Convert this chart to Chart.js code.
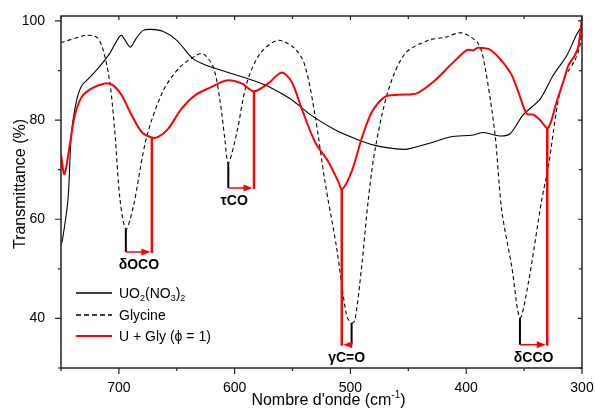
<!DOCTYPE html>
<html><head><meta charset="utf-8">
<script src="https://cdn.jsdelivr.net/npm/chart.js@4"></script>
<style>html,body{margin:0;padding:0;background:#fff}#wrap{width:595px;height:412px}</style>
</head><body><div id="wrap"><canvas id="c" width="595" height="412"></canvas></div>
<script>
// ---- data ----
const uoX=[750,749,744,741,736.5,732,726,716,708,703,698,693,690,685,679,672,662,650,636,624,607,584,570,552,534,513,493,479,464,453,448,428,414,394,385,371,362,351,336,325,313,305,300];
const uoY=[55,55.5,63.9,77.3,84,87,88.4,91,93.4,95.5,97.1,95.5,94.7,96.5,98.1,98.3,97.9,96.1,92.4,91,89.7,88,86.7,84.3,81,78,76,74.9,74.3,74.1,74.3,75.6,76.6,77,77.5,76.8,77.3,81,84.3,89,93.1,97.1,99];

const glyX=[750,749,728,719,713.5,707.7,703.4,699,693.9,687.6,676,661.6,647.2,632.8,627.1,618.5,612.7,608.4,605.5,598.3,589.6,578.1,562.6,547.9,539.3,530.6,522,511.9,503.2,498.9,496.1,490.3,484.6,478.8,467.3,452.9,432.8,418.3,403.9,389.6,383.8,375.2,369.4,360.7,353.6,346.4,334.8,329.1,320.5,314.7,306.1,301.8,300];
const glyY=[95.6,95.7,97.1,96.7,94.1,87.4,77.3,63.9,58,62.5,76.6,86,90.7,93.1,93.4,90.7,84,76,71.3,77.3,87.4,93.4,96.1,94.4,91,81,67.6,54.2,40.4,39.1,39.7,50.5,63.9,74,86,93.4,96.1,96.7,97.6,95.4,90.7,77.3,61.9,50.5,40.1,47.1,63.9,70.6,84,88.7,92.1,95,99];

const ugX=[750,747,742,738,732,723.5,712,705,697.6,689,680.3,671.7,666,657.3,645.8,634.3,619.8,607,594,583.3,571,559.4,550.7,542.1,530.6,519.1,510.5,507.3,499,490.3,481.6,470.2,458.7,442.8,428.5,414,399.6,393.9,389.6,378.6,362.2,355,347.8,342.1,336.3,329.4,321.9,316.2,311.8,306.1,303.3,300];
const ugY=[73,69.1,75.6,81,84.7,86.4,87.4,87,85,81,77.6,76.5,76.6,78.3,82.3,85,86.7,88,87.4,85.8,87.4,89.6,87.7,82.3,75.6,71.6,67.6,66,69.6,76.3,81.6,84.7,85.1,85.4,87.7,91,94.1,94.1,94.6,94.1,89.7,85.7,81.3,81.1,80,78.4,83.7,87.7,91,93.1,94.7,100.5];

const xTickValues=[700,600,500,400,300];
const xMinorValues=[750,650,550,450,350];
const yTickValues=[40,60,80,100];
const yMinorValues=[30,50,70,90];

const seriesNames=['UO2(NO3)2','Glycine','U + Gly (ϕ = 1)'];

// band shift annotations (glycine band -> complex band)
const annoLabels=['δOCO','τCO','γC=O','δCCO'];
const annoGlyX=[694,605.5,499,353.6];
const annoGlyY=[58,71.3,39.1,40.1];
const annoCpxX=[671.5,583.3,507.5,330];
const annoCpxY=[76.5,85.8,66.0,78.4];
const annoArrowY=[53.4,66.3,34.7,34.7];

const FONT="'Liberation Sans', Arial, Helvetica, sans-serif";
const RED='#ff0000';
function pts(xs,ys){return xs.map((x,i)=>({x:x,y:ys[i]}));}

function drawRich(ctx,parts,x,y,size){
  let cx=x;
  for(const [t,m] of parts){
    const s=m===0?size:Math.round(size*0.65);
    ctx.font=s+'px '+FONT;
    const dy=m===1?size*0.3:(m===2?-size*0.38:0);
    ctx.fillText(t,cx,y+dy);
    cx+=ctx.measureText(t).width;
  }
  return cx-x;
}
function richWidth(ctx,parts,size){
  let w=0;
  for(const [t,m] of parts){
    const s=m===0?size:Math.round(size*0.65);
    ctx.font=s+'px '+FONT; w+=ctx.measureText(t).width;
  }
  return w;
}

const decor={
  id:'decor',
  afterDatasetsDraw(chart){
    const {ctx,scales:{x,y}}=chart;
    ctx.save();
    for(let i=0;i<annoLabels.length;i++){
      const gx=x.getPixelForValue(annoGlyX[i]);
      const gy=y.getPixelForValue(annoGlyY[i]);
      const cx=x.getPixelForValue(annoCpxX[i]);
      const cy=y.getPixelForValue(annoCpxY[i]);
      const ay=y.getPixelForValue(annoArrowY[i]);
      ctx.strokeStyle='#000';ctx.lineWidth=2;
      ctx.beginPath();ctx.moveTo(gx,gy);ctx.lineTo(gx,ay);ctx.stroke();
      ctx.strokeStyle=RED;ctx.lineWidth=2.5;
      ctx.beginPath();ctx.moveTo(cx,ay+1);ctx.lineTo(cx,cy);ctx.stroke();
      const dir=cx>gx?1:-1;
      const tip=cx-dir*1.5;
      ctx.lineWidth=1.5;
      ctx.beginPath();ctx.moveTo(gx,ay);ctx.lineTo(tip-dir*6,ay);ctx.stroke();
      ctx.fillStyle=RED;
      ctx.beginPath();ctx.moveTo(tip,ay);ctx.lineTo(tip-dir*9,ay-3.5);ctx.lineTo(tip-dir*9,ay+3.5);ctx.closePath();ctx.fill();
      ctx.fillStyle='#000';ctx.font='bold 14px '+FONT;ctx.textAlign='center';ctx.textBaseline='middle';
      let lx=(gx+cx)/2; if(i===1) lx-=7;
      ctx.fillText(annoLabels[i],lx,ay+13);
    }
    ctx.restore();
  },
  afterDraw(chart){
    const {ctx,chartArea:a,scales:{x,y}}=chart;
    ctx.save();
    ctx.strokeStyle='#222';ctx.lineWidth=1.5;
    ctx.strokeRect(a.left,a.top,a.right-a.left,a.bottom-a.top);
    ctx.lineWidth=1.2;
    ctx.beginPath();
    for(const v of yTickValues){const p=y.getPixelForValue(v);ctx.moveTo(a.left-6,p);ctx.lineTo(a.left,p);ctx.moveTo(a.right,p);ctx.lineTo(a.right-4,p);}
    for(const v of yMinorValues){const p=y.getPixelForValue(v);ctx.moveTo(a.left-3,p);ctx.lineTo(a.left,p);ctx.moveTo(a.right,p);ctx.lineTo(a.right-3,p);}
    for(const v of xTickValues){const p=x.getPixelForValue(v);ctx.moveTo(p,a.bottom);ctx.lineTo(p,a.bottom+6);ctx.moveTo(p,a.top);ctx.lineTo(p,a.top+4);}
    for(const v of xMinorValues){const p=x.getPixelForValue(v);ctx.moveTo(p,a.bottom);ctx.lineTo(p,a.bottom+3);ctx.moveTo(p,a.top);ctx.lineTo(p,a.top+3);}
    ctx.stroke();

    ctx.fillStyle='#000';ctx.textBaseline='middle';
    ctx.save();
    ctx.translate(21,184);ctx.rotate(-Math.PI/2);
    ctx.font='16px '+FONT;ctx.textAlign='center';
    ctx.fillText('Transmittance (%)',0,0);
    ctx.restore();
    ctx.textAlign='left';
    const xt=[['Nombre d\'onde (cm',0],['-1',2],[')',0]];
    const w=richWidth(ctx,xt,16);
    drawRich(ctx,xt,(a.left+a.right)/2+7-w/2,401,16);

    const lx0=76,lx1=112,tx=119;
    const rows=[294,316,337];
    const styles=[{c:'#000',w:1.5,d:[]},{c:'#000',w:1.5,d:[5,3]},{c:RED,w:2,d:[]}];
    for(let i=0;i<3;i++){
      ctx.strokeStyle=styles[i].c;ctx.lineWidth=styles[i].w;ctx.setLineDash(styles[i].d);
      ctx.beginPath();ctx.moveTo(lx0,rows[i]-1);ctx.lineTo(lx1,rows[i]-1);ctx.stroke();
    }
    ctx.setLineDash([]);
    ctx.fillStyle='#000';ctx.textBaseline='middle';ctx.textAlign='left';
    drawRich(ctx,[['UO',0],['2',1],['(NO',0],['3',1],[')',0],['2',1]],tx,rows[0],14);
    ctx.font='14px '+FONT;
    ctx.fillText(seriesNames[1],tx,rows[1]);
    ctx.fillText(seriesNames[2],tx,rows[2]);
    ctx.restore();
  }
};

new Chart(document.getElementById('c'),{
  type:'line',
  data:{datasets:[
    {label:seriesNames[0],data:pts(uoX,uoY),borderColor:'#000',borderWidth:1.1,pointRadius:0,tension:0.3,order:1,fill:false},
    {label:seriesNames[1],data:pts(glyX,glyY),borderColor:'#000',borderWidth:1.1,borderDash:[4,3],pointRadius:0,tension:0.3,order:2,fill:false},
    {label:seriesNames[2],data:pts(ugX,ugY),borderColor:RED,borderWidth:2,pointRadius:0,tension:0.3,order:0,fill:false}
  ]},
  options:{
    responsive:false,animation:false,devicePixelRatio:1,events:[],
    layout:{padding:{top:16,right:13,left:0,bottom:0}},
    plugins:{legend:{display:false},tooltip:{enabled:false}},
    scales:{
      x:{type:'linear',reverse:true,min:300,max:750,
        afterFit(s){s.height=44;s.paddingLeft=0;s.paddingRight=0;},
        afterBuildTicks(s){s.ticks=xTickValues.map(v=>({value:v}));},
        grid:{display:false},border:{display:false},
        ticks:{padding:4,color:'#000',font:{size:14,family:FONT},maxRotation:0,autoSkip:false}},
      y:{type:'linear',min:30,max:101,
        afterFit(s){s.width=61;s.paddingTop=0;s.paddingBottom=0;},
        afterBuildTicks(s){s.ticks=yTickValues.map(v=>({value:v}));},
        grid:{display:false},border:{display:false},
        ticks:{padding:8,color:'#000',font:{size:14,family:FONT},autoSkip:false}}
    }
  },
  plugins:[decor]
});
</script></body></html>
